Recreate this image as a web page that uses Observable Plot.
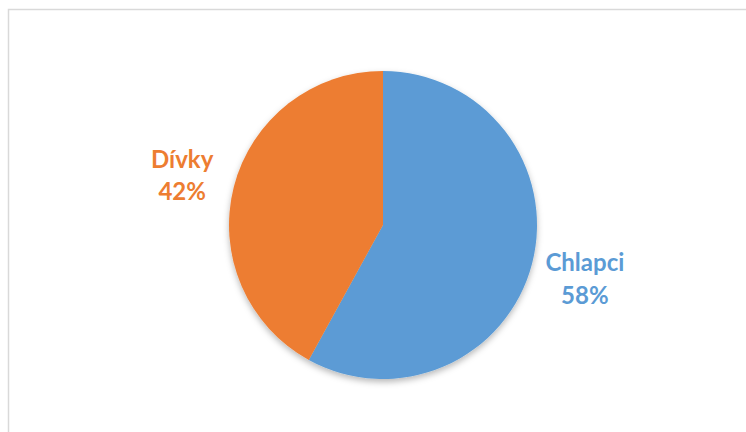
<!DOCTYPE html>
<html>
<head>
<meta charset="utf-8">
<script src="https://cdn.jsdelivr.net/npm/d3@7"></script>
<script src="https://cdn.jsdelivr.net/npm/@observablehq/plot@0.6"></script>
<style>
  body { margin: 0; background: #fff; }
  #chart { width: 746px; height: 432px; overflow: hidden; }
</style>
</head>
<body>
<div id="chart"></div>
<script>
const categories = ["Chlapci", "Dívky"];
const values = [58, 42];
const colors = ["#5B9BD5", "#ED7D31"];
const labelTexts = ["58%", "42%"];

const data = categories.map((c, i) => ({category: c, value: values[i], color: colors[i], pct: labelTexts[i]}));
const arcs = d3.pie().sort(null).value(d => d.value)(data);
const labelR = 1.35;
const labels = arcs.map(a => {
  const mid = (a.startAngle + a.endAngle) / 2;
  return {x: labelR * Math.sin(mid), y: labelR * Math.cos(mid), text: a.data.category + "\n" + a.data.pct, color: a.data.color};
});

const pieMark = (index, scales, values, dims) => {
  const cx = scales.x(0), cy = scales.y(0);
  const r = scales.x(1) - scales.x(0);
  const g = d3.create("svg:g");
  const defs = g.append("defs");
  const f = defs.append("filter").attr("id", "shadow").attr("x", "-20%").attr("y", "-20%").attr("width", "140%").attr("height", "140%");
  f.append("feDropShadow").attr("dx", 0).attr("dy", 3).attr("stdDeviation", 3).attr("flood-color", "#000").attr("flood-opacity", 0.28);
  g.append("rect").attr("x", 8.5).attr("y", 9.5).attr("width", dims.width + 20).attr("height", dims.height + 20)
    .attr("fill", "none").attr("stroke", "#d9d9d9").attr("stroke-width", 1.5);
  const arc = d3.arc().innerRadius(0).outerRadius(r);
  g.append("g").attr("transform", `translate(${cx},${cy})`).attr("filter", "url(#shadow)")
    .selectAll("path").data(arcs).join("path")
    .attr("d", arc).attr("fill", d => d.data.color);
  return g.node();
};

const chart = Plot.plot({
  width: 746,
  height: 432,
  margin: 0,
  x: {domain: [-383 / 154, (746 - 383) / 154], axis: null},
  y: {domain: [-(432 - 225) / 154, 225 / 154], axis: null},
  style: {background: "#fff"},
  marks: [
    pieMark,
    Plot.text(labels, {
      x: "x", y: "y", text: "text", fill: "color",
      fontFamily: "Lato, 'Open Sans', sans-serif", fontSize: 24, fontWeight: "bold",
      lineHeight: 1.35
    })
  ]
});
document.getElementById("chart").appendChild(chart);
</script>
</body>
</html>
